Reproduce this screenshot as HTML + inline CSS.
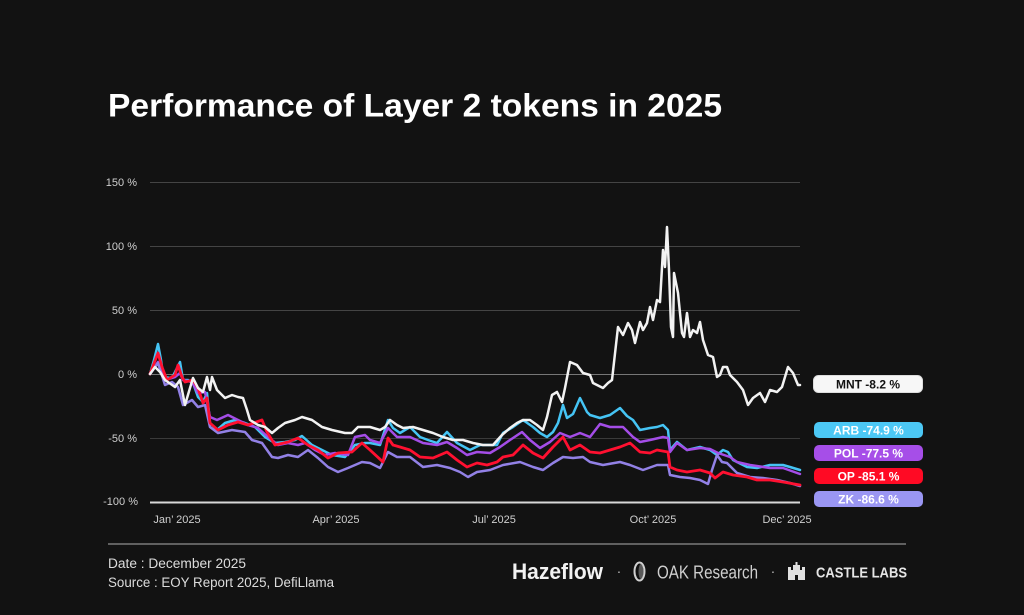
<!DOCTYPE html>
<html>
<head>
<meta charset="utf-8">
<style>
html,body{margin:0;padding:0;background:#121212;}
svg{display:block;}
</style>
</head>
<body>
<svg width="1024" height="615" viewBox="0 0 1024 615" xmlns="http://www.w3.org/2000/svg">
<rect width="1024" height="615" fill="#121212"/>

<!-- Title -->
<text x="108" y="116.5" font-family="Liberation Sans, sans-serif" font-weight="bold" font-size="32" fill="#ffffff" textLength="614" lengthAdjust="spacingAndGlyphs">Performance of Layer 2 tokens in 2025</text>

<!-- Grid -->
<g stroke="#444" stroke-width="1">
<line x1="150" y1="182.5" x2="800" y2="182.5"/>
<line x1="150" y1="246.5" x2="800" y2="246.5"/>
<line x1="150" y1="310.5" x2="800" y2="310.5"/>
<line x1="150" y1="438.5" x2="800" y2="438.5" stroke="#3a3a3a"/>
</g>
<line x1="150" y1="374.5" x2="800" y2="374.5" stroke="#777" stroke-width="1"/>
<line x1="150" y1="502.5" x2="800" y2="502.5" stroke="#d8d8d8" stroke-width="2"/>

<!-- Y labels -->
<g font-family="Liberation Sans, sans-serif" font-size="11" fill="#cfcfcf" text-anchor="end">
<text x="137" y="186">150 %</text>
<text x="137" y="250">100 %</text>
<text x="137" y="314">50 %</text>
<text x="137" y="378">0 %</text>
<text x="137" y="442">-50 %</text>
<text x="138" y="505">-100 %</text>
</g>

<!-- X labels -->
<g font-family="Liberation Sans, sans-serif" font-size="11" fill="#cfcfcf" text-anchor="middle">
<text x="177" y="523">Jan’ 2025</text>
<text x="336" y="523">Apr’ 2025</text>
<text x="494" y="523">Jul’ 2025</text>
<text x="653" y="523">Oct’ 2025</text>
<text x="787" y="523">Dec’ 2025</text>
</g>

<!-- Series -->
<g fill="none" stroke-width="2.5" stroke-linejoin="round" stroke-linecap="round">
<polyline stroke="#45c4f4" points="150,374 154,360 158,344 161,360 162,367 165,377 170,378 173,376 177,368 180,362 183,380 188,380 193,383 198,397 203,402 207,393 210,423 217,430 225,423 235,420 245,423 255,427 265,437 275,443 285,442 295,440 302,436 312,445 322,450 332,455 345,457 355,445 365,443 370,443 380,445 388,420 393,428 400,433 410,427 420,437 428,440 437,443 447,432 457,443 470,450 480,445 490,445 497,445 503,433 513,427 523,420 533,427 540,433 547,437 553,432 558,423 563,405 567,418 573,414 580,398 587,412 590,415 600,418 610,415 620,408 627,416 633,420 640,430 650,428 657,427 663,425 668,430 670,450 677,442 687,450 700,447 710,450 717,455 723,450 728,452 733,460 747,467 757,468 770,465 783,465 790,467 800,470"/>
<polyline stroke="#a44de7" points="150,374 158,362 165,380 175,377 180,373 183,380 192,382 198,393 205,392 210,417 217,420 228,415 238,420 248,425 258,428 268,437 278,445 288,443 298,445 305,443 315,450 325,455 335,453 348,455 355,437 365,435 370,440 380,443 388,428 397,437 410,437 423,443 437,445 447,442 457,448 467,455 477,452 490,453 500,447 510,440 522,432 530,440 540,448 550,442 560,433 570,437 580,433 590,437 600,424 610,427 623,427 633,437 640,442 650,440 663,437 668,438 670,452 677,443 687,450 700,448 710,449 718,453 730,457 737,462 750,465 770,468 783,468 800,474"/>
<polyline stroke="#9281e6" points="150,374 158,363 165,385 172,382 178,387 183,405 192,400 198,407 205,405 210,427 218,433 232,430 245,432 252,440 262,443 272,457 278,458 288,455 298,457 308,450 318,458 328,467 338,472 348,468 362,462 370,463 380,468 388,452 397,457 410,457 423,467 437,465 450,468 460,472 468,477 477,472 490,470 503,465 520,462 533,467 543,470 553,463 563,457 573,458 583,457 590,462 603,465 620,462 630,465 643,470 657,465 668,465 670,475 680,477 690,478 700,480 708,484 712,470 717,455 722,462 727,463 737,473 750,477 763,478 777,480 790,483 800,486"/>
<polyline stroke="#ff1030" stroke-width="2.8" points="150,374 158,353 162,367 167,380 175,375 178,365 182,377 185,382 193,380 198,388 203,403 207,398 210,423 218,430 228,425 238,422 248,425 262,420 267,432 275,445 288,442 298,438 308,445 318,450 328,458 338,453 352,452 362,443 370,450 383,462 388,438 393,445 400,447 410,450 420,457 433,458 447,452 457,460 467,467 477,463 487,465 497,462 503,457 513,455 523,445 533,453 543,458 553,447 563,437 570,450 580,445 590,452 600,453 610,450 620,447 630,443 640,452 650,453 657,450 668,452 670,467 677,470 687,472 700,470 710,473 715,478 723,472 733,475 747,477 757,480 770,480 783,482 800,485"/>
<polyline stroke="#f2f2f2" points="150,374 155,367 160,372 165,380 175,387 180,380 185,405 190,388 193,378 198,388 203,392 207,377 210,390 212,377 217,390 225,398 232,395 238,397 243,398 247,410 250,420 258,425 265,427 272,433 278,428 285,423 295,420 302,417 312,420 322,427 332,430 345,433 352,433 358,427 370,427 380,430 385,427 390,420 397,425 403,428 413,427 423,430 433,433 443,437 453,440 463,440 473,443 483,445 493,445 502,435 510,428 517,423 523,420 530,420 537,425 543,430 547,417 552,395 557,392 562,402 565,388 570,362 577,365 583,373 590,375 593,383 603,388 608,383 612,380 618,327 623,335 628,323 632,330 635,343 640,322 643,330 647,323 650,307 653,320 657,300 660,302 663,250 665,267 667,227 669,270 671,327 673,337 674,273 678,293 682,333 684,337 687,313 690,337 693,330 697,333 700,322 703,340 708,355 713,357 717,377 720,375 723,367 727,367 730,375 737,382 743,390 748,405 753,398 760,393 765,402 770,390 777,392 782,387 788,367 793,373 798,385 800,385"/>
</g>

<!-- Legend pills -->
<g font-family="Liberation Sans, sans-serif" font-weight="bold" font-size="12" text-anchor="middle">
<rect x="813.5" y="375.5" width="109" height="17" rx="5" fill="#f7f7f7" stroke="#dddddd"/>
<text x="868" y="388.5" fill="#111">MNT -8.2 %</text>
<rect x="814" y="422" width="109" height="16" rx="5" fill="#4cc8f5"/>
<text x="868.5" y="434.5" fill="#ffffff">ARB -74.9 %</text>
<rect x="814" y="445" width="109" height="16" rx="5" fill="#a64ee8"/>
<text x="868.5" y="457.5" fill="#ffffff">POL -77.5 %</text>
<rect x="814" y="468" width="109" height="16" rx="5" fill="#ff0a24"/>
<text x="868.5" y="480.5" fill="#ffffff">OP -85.1 %</text>
<rect x="814" y="491" width="109" height="16" rx="5" fill="#9a96f3"/>
<text x="868.5" y="503.5" fill="#ffffff">ZK -86.6 %</text>
</g>

<!-- Footer separator -->
<line x1="108" y1="544" x2="906" y2="544" stroke="#7a7a7a" stroke-width="1.5"/>

<!-- Footer text -->
<g font-family="Liberation Sans, sans-serif" font-size="13.5" fill="#dcdcdc">
<text x="108" y="568" textLength="138" lengthAdjust="spacingAndGlyphs">Date : December 2025</text>
<text x="108" y="587" textLength="226" lengthAdjust="spacingAndGlyphs">Source : EOY Report 2025, DefiLlama</text>
</g>

<!-- Logos -->
<text x="512" y="579" font-family="Liberation Sans, sans-serif" font-weight="bold" font-size="22" fill="#f2f2f2" textLength="91" lengthAdjust="spacingAndGlyphs">Hazeflow</text>
<text x="619" y="576" font-family="Liberation Sans, sans-serif" font-size="14" fill="#bbb" text-anchor="middle">·</text>
<ellipse cx="639.5" cy="571.5" rx="5" ry="9" fill="none" stroke="#d0d0d0" stroke-width="2"/>
<ellipse cx="641" cy="571.5" rx="2.5" ry="7.5" fill="#888" opacity="0.6"/>
<text x="657" y="578.5" font-family="Liberation Sans, sans-serif" font-size="18" fill="#cfcfcf" textLength="101" lengthAdjust="spacingAndGlyphs">OAK Research</text>
<text x="773" y="576" font-family="Liberation Sans, sans-serif" font-size="14" fill="#bbb" text-anchor="middle">·</text>
<g fill="#e0e0e0">
<rect x="788" y="570" width="17" height="10"/>
<rect x="793" y="565" width="7" height="6"/>
<rect x="788" y="567" width="3" height="4"/>
<rect x="802" y="567" width="3" height="4"/>
<rect x="795.5" y="562" width="2" height="4"/>
<rect x="795" y="575" width="3" height="5" fill="#121212"/>
</g>
<text x="816" y="577.5" font-family="Liberation Sans, sans-serif" font-weight="bold" font-size="15" fill="#e6e6e6" textLength="91" lengthAdjust="spacingAndGlyphs">CASTLE LABS</text>
</svg>
</body>
</html>
